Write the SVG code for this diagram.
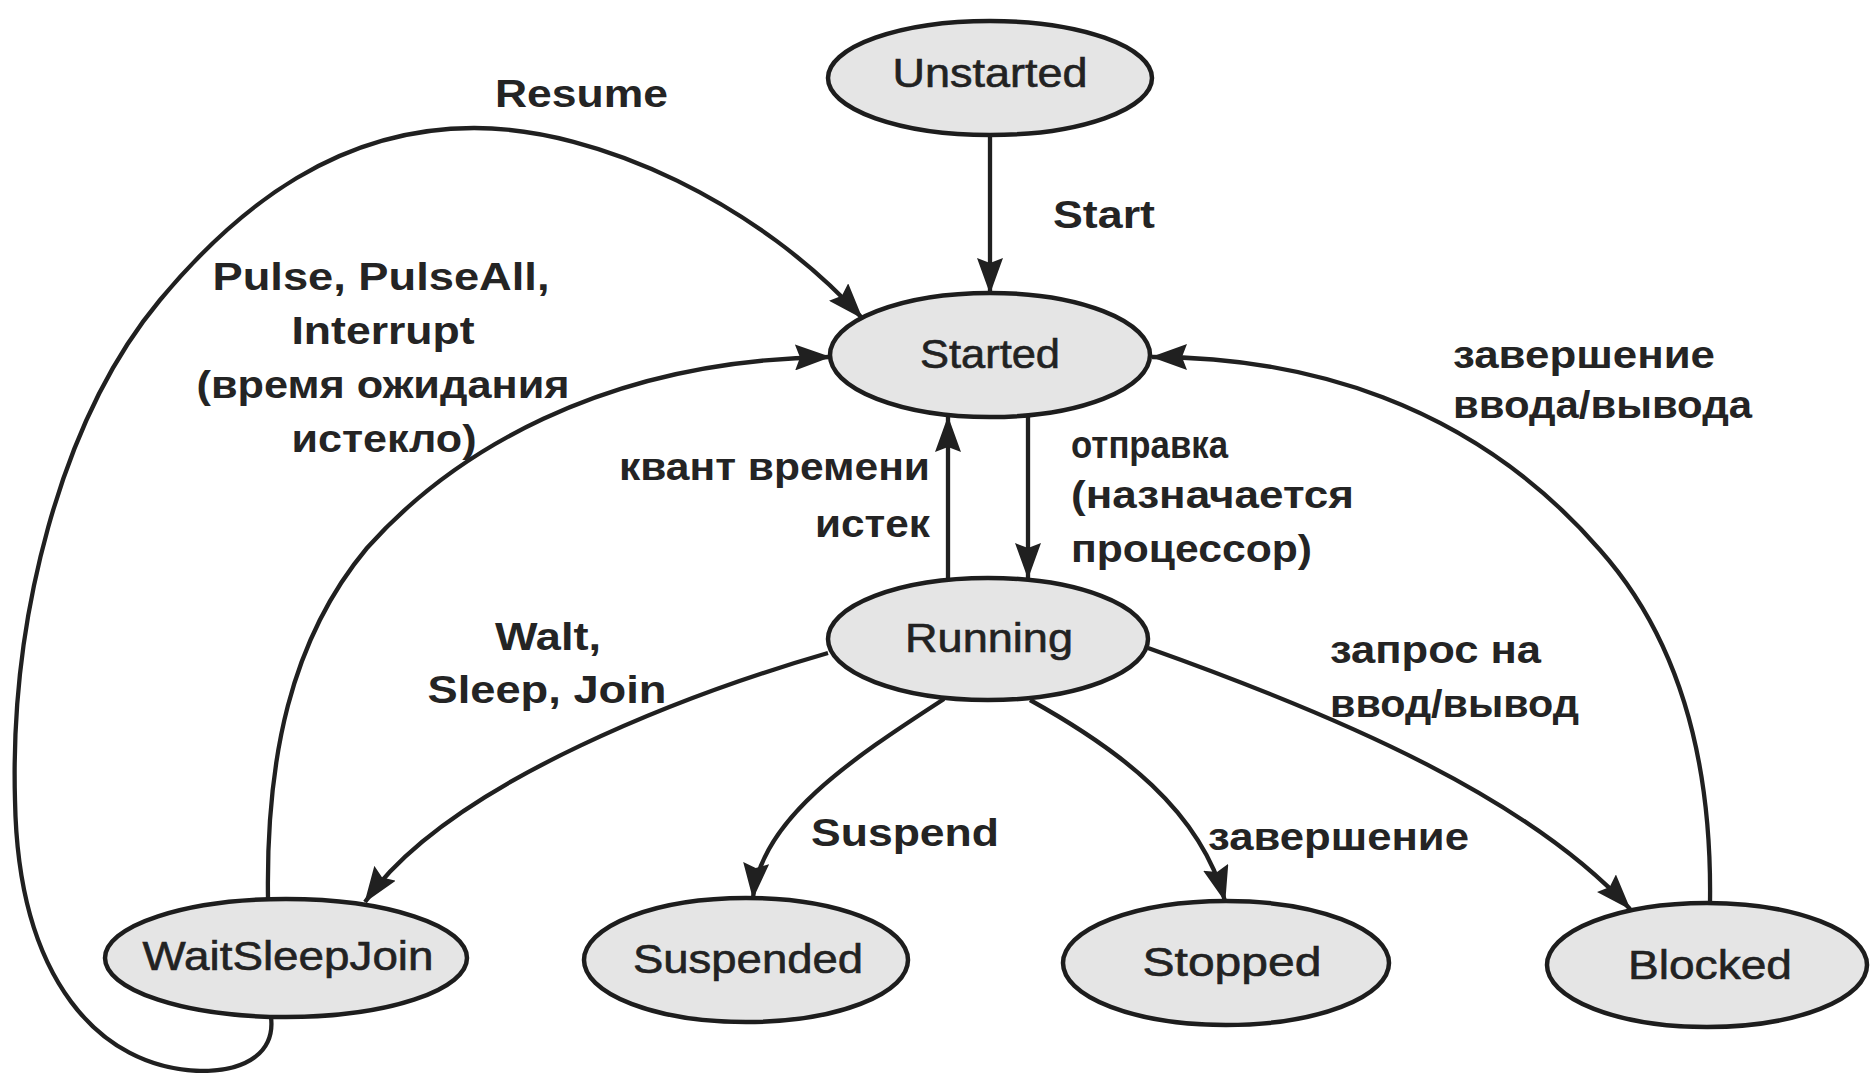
<svg xmlns="http://www.w3.org/2000/svg" width="1870" height="1073" viewBox="0 0 1870 1073">
  <style>
    .node ellipse { fill: #e5e5e5; stroke: #1d1d1d; stroke-width: 4.5; }
    .node text { font-family: "Liberation Sans", Arial, sans-serif; font-size: 40px; fill: #222; stroke: #222; stroke-width: 0.6; text-anchor: middle; }
    .edge { fill: none; stroke: #202020; stroke-width: 4.3; }
    .arrow { marker-end: url(#head); }
    .lbl { font-family: "Liberation Sans", Arial, sans-serif; font-size: 38px; font-weight: bold; fill: #242424; }
    .mid { text-anchor: middle; }
    .end { text-anchor: end; }
  </style>
  <defs>
    <marker id="head" viewBox="0 0 36 26" refX="35" refY="13" markerWidth="36" markerHeight="26" markerUnits="userSpaceOnUse" orient="auto">
      <path d="M0,0 L36,13 L0,26 L5,13 z" fill="#202020"/>
    </marker>
  </defs>
  <rect width="1870" height="1073" fill="#ffffff"/>

  <!-- transitions -->
  <g id="connectors">
    <!-- Start -->
    <path class="edge arrow" d="M990,135 L990,293"/>
    <!-- time slice expired: Running -> Started -->
    <path class="edge arrow" d="M948,580 L948,417"/>
    <!-- dispatch: Started -> Running -->
    <path class="edge arrow" d="M1028,415 L1028,578"/>
    <!-- Resume: loop under WaitSleepJoin, up the left side, over to Started -->
    <path class="edge arrow" d="M271,1017 C275,1050 250,1071 200,1071 C100,1068 18,980 15,800 C10,620 60,420 160,300 C240,204 340,128 474,128 C600,128 760,205 862,318"/>
    <!-- Pulse / PulseAll / Interrupt: WaitSleepJoin -> Started -->
    <path class="edge arrow" d="M268,898 C266,760 290,640 367,548 C450,455 600,360 830,357"/>
    <!-- Wait, Sleep, Join: Running -> WaitSleepJoin -->
    <path class="edge arrow" d="M828,653 C700,690 450,780 365,902"/>
    <!-- Suspend: Running -> Suspended -->
    <path class="edge arrow" d="M944,699 C850,760 760,820 753,898"/>
    <!-- completion: Running -> Stopped -->
    <path class="edge arrow" d="M1030,700 C1120,750 1200,810 1225,901"/>
    <!-- I/O request: Running -> Blocked -->
    <path class="edge arrow" d="M1148,648 C1350,720 1530,800 1630,909"/>
    <!-- I/O completion: Blocked -> Started -->
    <path class="edge arrow" d="M1710,903 C1712,760 1680,640 1600,550 C1470,400 1300,357 1152,357"/>
  </g>

  <!-- transition labels -->
  <g id="labels">
    <text class="lbl" x="495" y="107" textLength="173" lengthAdjust="spacingAndGlyphs">Resume</text>
    <text class="lbl" x="1053" y="228" textLength="102" lengthAdjust="spacingAndGlyphs">Start</text>
    <text class="lbl mid" x="381" y="290" textLength="337" lengthAdjust="spacingAndGlyphs">Pulse, PulseAll,</text>
    <text class="lbl mid" x="383" y="344" textLength="183" lengthAdjust="spacingAndGlyphs">Interrupt</text>
    <text class="lbl mid" x="383" y="398" textLength="373" lengthAdjust="spacingAndGlyphs">(время ожидания</text>
    <text class="lbl mid" x="384" y="452" textLength="185" lengthAdjust="spacingAndGlyphs">истекло)</text>
    <text class="lbl end" x="930" y="480" textLength="311" lengthAdjust="spacingAndGlyphs">квант времени</text>
    <text class="lbl end" x="930" y="537" textLength="115" lengthAdjust="spacingAndGlyphs">истек</text>
    <text class="lbl" x="1071" y="458" textLength="157" lengthAdjust="spacingAndGlyphs">отправка</text>
    <text class="lbl" x="1071" y="508" textLength="283" lengthAdjust="spacingAndGlyphs">(назначается</text>
    <text class="lbl" x="1071" y="562" textLength="241" lengthAdjust="spacingAndGlyphs">процессор)</text>
    <text class="lbl" x="1453" y="368" textLength="262" lengthAdjust="spacingAndGlyphs">завершение</text>
    <text class="lbl" x="1453" y="418" textLength="299" lengthAdjust="spacingAndGlyphs">ввода/вывода</text>
    <text class="lbl" x="1330" y="663" textLength="211" lengthAdjust="spacingAndGlyphs">запрос на</text>
    <text class="lbl" x="1330" y="717" textLength="249" lengthAdjust="spacingAndGlyphs">ввод/вывод</text>
    <text class="lbl mid" x="548" y="650" textLength="106" lengthAdjust="spacingAndGlyphs">Walt,</text>
    <text class="lbl mid" x="547" y="703" textLength="239" lengthAdjust="spacingAndGlyphs">Sleep, Join</text>
    <text class="lbl" x="811" y="846" textLength="188" lengthAdjust="spacingAndGlyphs">Suspend</text>
    <text class="lbl" x="1208" y="850" textLength="261" lengthAdjust="spacingAndGlyphs">завершение</text>
  </g>

  <!-- thread states -->
  <g id="unstarted" class="node">
    <ellipse cx="990" cy="78" rx="162" ry="57"/>
    <text x="990" y="87" textLength="195" lengthAdjust="spacingAndGlyphs">Unstarted</text>
  </g>
  <g id="started" class="node">
    <ellipse cx="990" cy="355" rx="160" ry="62"/>
    <text x="990" y="368" textLength="140" lengthAdjust="spacingAndGlyphs">Started</text>
  </g>
  <g id="running" class="node">
    <ellipse cx="988" cy="639" rx="160" ry="61"/>
    <text x="989" y="652" textLength="168" lengthAdjust="spacingAndGlyphs">Running</text>
  </g>
  <g id="waitsleepjoin" class="node">
    <ellipse cx="286" cy="958" rx="181" ry="59"/>
    <text x="288" y="970" textLength="291" lengthAdjust="spacingAndGlyphs">WaitSleepJoin</text>
  </g>
  <g id="suspended" class="node">
    <ellipse cx="746" cy="960" rx="162" ry="62"/>
    <text x="748" y="973" textLength="230" lengthAdjust="spacingAndGlyphs">Suspended</text>
  </g>
  <g id="stopped" class="node">
    <ellipse cx="1226" cy="963" rx="163" ry="62"/>
    <text x="1232" y="976" textLength="179" lengthAdjust="spacingAndGlyphs">Stopped</text>
  </g>
  <g id="blocked" class="node">
    <ellipse cx="1707" cy="965" rx="160" ry="62"/>
    <text x="1710" y="979" textLength="164" lengthAdjust="spacingAndGlyphs">Blocked</text>
  </g>
</svg>
